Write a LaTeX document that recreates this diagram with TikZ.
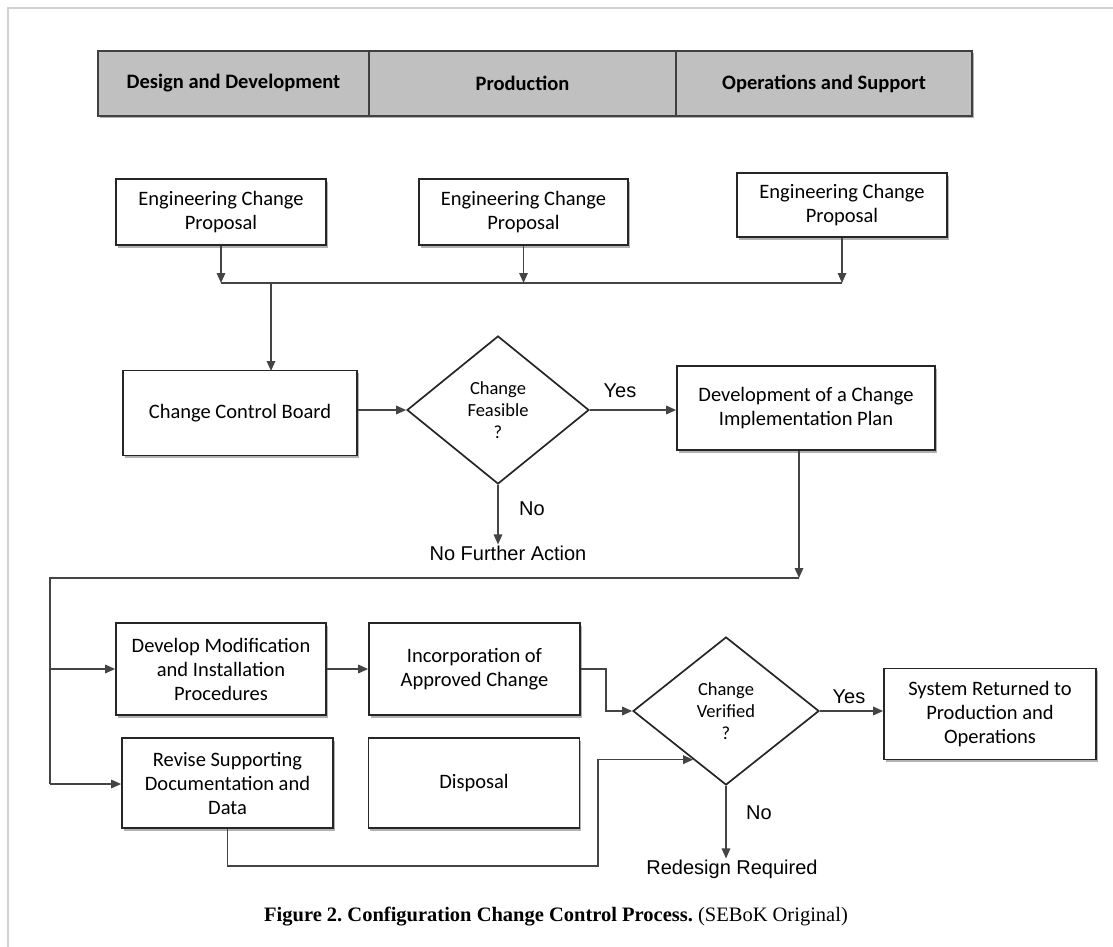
\documentclass[tikz,border=0pt]{standalone}
\usepackage{fontspec}
\setmainfont{Liberation Serif}
\newfontfamily\boxfont{Carlito}
\newfontfamily\lblfont{Liberation Sans}
\usetikzlibrary{shapes.geometric,shadows,arrows.meta,calc}
\definecolor{hdrgray}{HTML}{C0C0C0}
\definecolor{linegray}{HTML}{444444}
\frenchspacing
\begin{document}
\begin{tikzpicture}[x=1pt,y=-1pt,
    shade/.style={drop shadow={shadow xshift=1.5pt,shadow yshift=-2.5pt,opacity=0.3,fill=black}},
    hdr/.style={draw=black!75,line width=1.8pt,fill=hdrgray,minimum height=65pt,inner sep=0pt,
        font=\boxfont\bfseries\fontsize{20.5}{24}\selectfont},
    box/.style={draw=black!85,line width=1.7pt,fill=white,align=center,inner sep=0pt,shade,
        font=\boxfont\fontsize{20.5}{24}\selectfont},
    decision/.style={diamond,draw=black!85,line width=1.7pt,fill=white,align=center,inner sep=0pt,
        font=\boxfont\fontsize{18.5}{22}\selectfont},
    lbl/.style={font=\lblfont\fontsize{20}{24}\selectfont,inner sep=1pt},
    conn/.style={draw=linegray,line width=1.6pt},
    arr/.style={conn,-{Triangle[length=10pt,width=8.5pt]}}]
\useasboundingbox (0,0) rectangle (1113,947);
% page frame
\draw[black!18,line width=1.5pt] (8,947) -- (8,8) -- (1113,8);
% phase header
\node[hdr,shade,minimum width=874pt] at (535,83.5) {};
\node[hdr,minimum width=271pt] (dd) at (233.5,83.5) {Design and Development};
\node[hdr,minimum width=307pt] (prod) at (522.5,83.5) {Production};
\node[hdr,minimum width=296pt] (ops) at (824,83.5) {Operations and Support};
% proposals
\node[box,minimum width=210pt,minimum height=66pt] (ecp1) at (221,212) {Engineering Change\\Proposal};
\node[box,minimum width=209pt,minimum height=66pt] (ecp2) at (523.5,212) {Engineering Change\\Proposal};
\node[box,minimum width=210pt,minimum height=64pt] (ecp3) at (842,205) {Engineering Change\\Proposal};
\coordinate (busl) at (221,283);
\coordinate (busr) at (842,283);
\draw[arr] (ecp1.south) -- (busl);
\draw[arr] (ecp2.south) -- (ecp2.south |- busl);
\draw[arr] (ecp3.south) -- (busr);
\draw[conn] (busl) -- (busr);
% board and feasibility
\node[box,minimum width=234pt,minimum height=85pt] (ccb) at (240,413) {Change Control Board};
\draw[arr] (271,283) -- (271,371);
\node[decision,minimum width=182pt,minimum height=148pt] (feas) at (498,410) {Change\\Feasible\\?};
\node[box,minimum width=258pt,minimum height=84pt] (plan) at (806,408) {Development of a Change\\Implementation Plan};
\draw[arr] (ccb.east |- feas.west) -- (feas.west);
\draw[arr] (feas.east) -- (plan.west |- feas.east);
\node[lbl] at (620,391) {Yes};
\node[lbl] (nfa) at (508,553) {No Further Action};
\draw[arr] (feas.south) -- (feas.south |- nfa.north);
\node[lbl] at (532,509) {No};
% implementation
\coordinate (split) at (799,578);
\coordinate (lft) at (50,578);
\draw[arr] (plan.south -| split) -- (split);
\draw[conn] (split) -- (lft) -- (50,784);
\node[box,minimum width=210pt,minimum height=92pt] (modify) at (221,669) {Develop Modification\\and Installation\\Procedures};
\node[box,minimum width=211pt,minimum height=92pt] (incorp) at (474.5,669) {Incorporation of\\Approved Change};
\node[box,minimum width=211pt,minimum height=90pt] (revise) at (227.5,783) {Revise Supporting\\Documentation and\\Data};
\node[box,minimum width=211pt,minimum height=90pt] (disposal) at (474,783) {Disposal};
\draw[arr] (50,669) -- (modify.west);
\draw[arr] (50,784) -- (revise.west |- 50,784);
\draw[arr] (modify.east) -- (incorp.west);
% verification
\node[decision,minimum width=186pt,minimum height=148pt] (verif) at (726,711) {Change\\Verified\\?};
\node[box,minimum width=212pt,minimum height=91pt] (sysret) at (990,714) {System Returned to\\Production and\\Operations};
\coordinate (vin) at ($(verif.west)!0.65!(verif.south)$);
\draw[arr] (incorp.east) -- ++(25,0) |- (verif.west);
\draw[arr] (revise.south) |- (598,866) |- (vin);
\draw[arr] (verif.east) -- (verif.east -| sysret.west);
\node[lbl] at (849,697) {Yes};
\node[lbl] (redo) at (732,869) {Redesign Required};
\draw[arr] (verif.south) -- (verif.south |- redo.north);
\node[lbl] at (759,813) {No};
% caption
\node[font=\fontsize{20.5}{24}\selectfont] (cap) at (556,917) {\textbf{Figure 2. Configuration Change Control Process.} (SEBoK Original)};
\end{tikzpicture}
\end{document}
